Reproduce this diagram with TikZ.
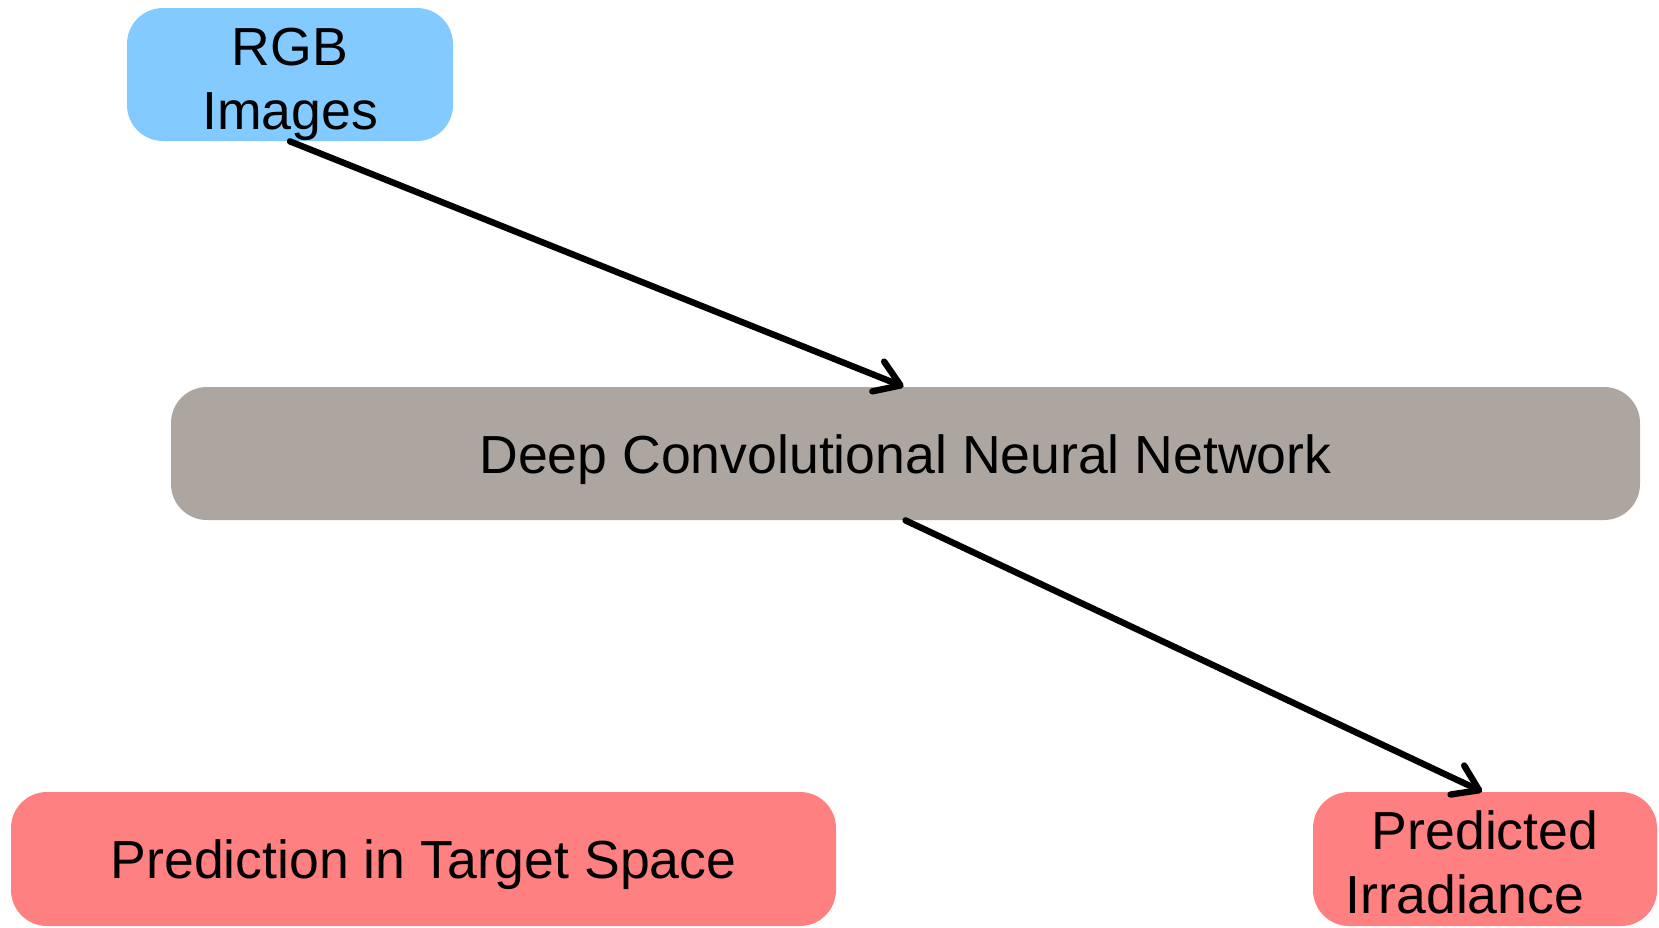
\documentclass[tikz,border=0pt]{standalone}
\usepackage{fontspec}
\setmainfont{Liberation Sans}
\usetikzlibrary{arrows.meta}
\definecolor{rgbblue}{RGB}{130,202,255}
\definecolor{cnngrey}{RGB}{173,166,160}
\definecolor{outred}{RGB}{255,128,128}
\newcommand\loweredlines[2]{\raisebox{-#1}[\height][\depth]{\begin{tabular}{@{}c@{}}#2\end{tabular}}}
\tikzset{
  box/.style={rounded corners=18pt, inner sep=0pt, align=center,
    font=\fontsize{26.8}{31.8}\selectfont, text=black},
  oneline/.style={text height=19.5pt, text depth=0pt},
  conn/.style={line width=3.2pt, line cap=round,
    -{Straight Barb[length=12pt,width=16pt,round]}}
}
\begin{document}
\begin{tikzpicture}[x=0.5pt,y=-0.5pt]
\useasboundingbox (0,0) rectangle (1659,927);
\node[box, fill=rgbblue, minimum width=163pt, minimum height=66.5pt] (rgb) at (290,74.5) {\loweredlines{5pt}{RGB\\Images}};
\node[box, oneline, fill=cnngrey, minimum width=734.5pt, minimum height=66.5pt] (cnn) at (905.5,453.5) {Deep Convolutional Neural Network};
\node[box, oneline, fill=outred, minimum width=412.5pt, minimum height=67pt] (pts) at (423.5,859) {Prediction in Target Space};
\node[box, fill=outred, minimum width=172pt, minimum height=67pt] (pi) at (1485,859) {\loweredlines{4.8pt}{Predicted\\Irradiance\hspace*{20pt}}};
\draw[conn] (rgb.south) -- ([xshift=-1pt]cnn.north);
\draw[conn] (cnn.south) -- ([xshift=-1.5pt]pi.north);
\end{tikzpicture}
\end{document}
